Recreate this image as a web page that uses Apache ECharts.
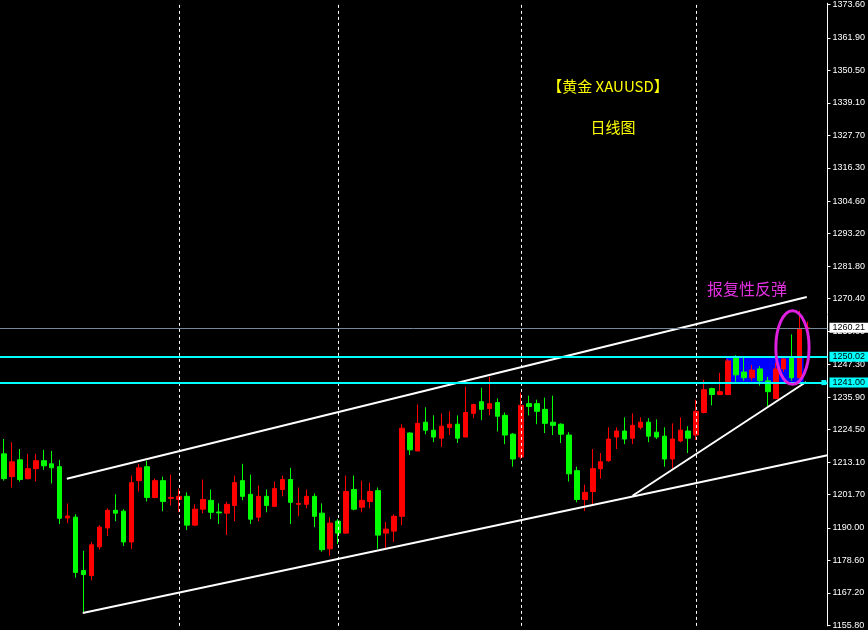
<!DOCTYPE html>
<html><head><meta charset="utf-8">
<script src="https://cdn.jsdelivr.net/npm/echarts/dist/echarts.min.js"></script>
<style>html,body{margin:0;padding:0;background:#000;}#c{width:868px;height:630px;}</style>
</head><body><div id="c"></div>
<script>
// ---- data (daily candles, oldest first) ----
const openPrices = [1216.0,1208.0,1213.9,1207.3,1210.8,1213.6,1212.5,1211.5,1193.5,1193.8,
1175.1,1173.3,1183.4,1190.0,1196.2,1195.9,1185.1,1206.6,1211.5,1200.7,
1206.6,1200.4,1200.0,1201.1,1191.0,1196.6,1199.7,1195.6,1195.2,1197.9,
1206.6,1201.8,1193.8,1201.1,1197.6,1203.5,1207.0,1198.3,1198.3,1201.1,
1195.2,1182.7,1192.4,1188.2,1203.5,1197.3,1199.3,1203.1,1188.2,1188.9,
1194.1,1223.3,1217.0,1227.1,1224.3,1221.5,1225.3,1226.4,1221.9,1230.2,
1234.3,1231.9,1234.0,1229.5,1222.9,1214.9,1233.6,1233.6,1231.6,1227.1,
1226.4,1222.6,1210.1,1200.0,1202.8,1210.8,1213.6,1221.9,1224.0,1221.5,
1225.3,1227.1,1223.6,1222.2,1214.2,1220.5,1224.0,1222.6,1230.5,1238.9,
1236.8,1236.8,1249.9,1244.7,1242.7,1245.8,1241.6,1235.4,1245.8,1249.6,
1242.7,1259.9];
const closePrices = [1207.3,1213.2,1207.0,1210.8,1213.6,1211.8,1211.1,1193.4,1194.2,1174.4,
1173.7,1184.1,1190.3,1196.2,1195.2,1185.1,1205.9,1211.1,1200.7,1206.6,
1199.3,1200.7,1201.1,1191.0,1196.6,1200.0,1195.5,1195.3,1198.3,1205.9,
1201.1,1193.1,1201.1,1197.9,1203.8,1207.0,1199.0,1198.6,1201.1,1194.1,
1182.4,1191.7,1188.2,1202.8,1196.6,1199.7,1202.8,1187.5,1189.6,1194.1,
1225.0,1217.4,1226.7,1224.3,1221.9,1225.7,1226.4,1221.5,1230.5,1233.3,
1231.6,1233.6,1229.2,1222.6,1214.2,1233.0,1232.6,1230.9,1226.7,1226.0,
1222.9,1209.0,1200.0,1202.5,1210.8,1213.2,1221.2,1224.0,1221.2,1226.0,
1227.1,1222.2,1221.9,1214.2,1221.2,1224.3,1221.5,1230.9,1238.5,1236.8,
1237.8,1248.6,1243.7,1242.7,1245.4,1241.6,1237.8,1245.8,1249.3,1242.7,
1259.7,1260.21];
const lowPrices = [1206.6,1204.2,1206.3,1207.0,1206.3,1210.4,1205.6,1191.4,1191.7,1172.6,
1160.2,1171.6,1182.4,1187.2,1192.4,1183.7,1182.7,1202.8,1199.3,1200.4,
1195.9,1197.9,1195.5,1189.3,1190.7,1195.2,1193.1,1191.4,1187.5,1192.4,
1199.7,1191.4,1192.4,1195.5,1197.3,1201.1,1191.4,1194.1,1196.9,1190.3,
1181.7,1180.3,1184.4,1188.0,1196.2,1195.5,1196.9,1182.7,1182.7,1185.1,
1191.0,1215.6,1217.0,1222.9,1220.1,1218.4,1222.6,1219.8,1221.9,1228.5,
1227.8,1229.5,1223.9,1219.4,1211.5,1214.2,1229.5,1226.4,1223.3,1222.6,
1219.8,1206.3,1199.0,1195.9,1198.3,1207.3,1213.2,1217.7,1219.4,1219.4,
1224.6,1220.1,1221.2,1211.5,1210.8,1220.1,1216.3,1220.8,1230.2,1233.0,
1236.6,1236.6,1241.3,1241.6,1241.6,1239.9,1232.6,1235.2,1244.7,1241.6,
1242.5,1259.6];
const highPrices = [1221.2,1220.1,1217.7,1216.0,1216.0,1217.4,1217.0,1213.9,1198.6,1194.8,
1182.0,1185.1,1191.0,1196.9,1201.8,1196.6,1208.4,1212.5,1213.6,1207.3,
1208.0,1208.7,1203.8,1202.5,1198.3,1207.0,1203.5,1198.6,1199.3,1208.4,
1212.5,1208.7,1204.9,1203.5,1206.3,1208.4,1211.1,1204.2,1203.5,1202.1,
1198.6,1193.8,1193.1,1208.4,1208.4,1206.6,1205.9,1204.2,1192.1,1194.8,
1226.4,1223.6,1233.3,1232.3,1229.5,1230.2,1230.9,1229.5,1239.5,1233.6,
1239.2,1243.0,1235.4,1230.5,1223.3,1237.5,1236.4,1235.0,1235.7,1236.4,
1226.7,1223.6,1211.5,1205.2,1217.7,1216.3,1225.3,1225.3,1228.8,1230.2,
1228.8,1228.5,1228.1,1225.3,1226.7,1228.8,1225.7,1235.0,1242.0,1239.2,
1244.4,1249.3,1250.6,1249.6,1247.2,1246.8,1243.0,1247.9,1250.3,1257.9,
1266.2,1262.4];
const slotCount = 104;                       // bar slots visible on screen
const separatorBars = [22, 42, 65, 87];      // dashed period separators
const yTickValues = [1373.60,1361.90,1350.50,1339.10,1327.70,1316.30,1304.60,1293.20,1281.80,1270.40,
1259.00,1247.30,1235.90,1224.50,1213.10,1201.70,1190.00,1178.60,1167.20,1155.80];
const yRange = [1155.67, 1374.04];
const lastPrice = 1260.21;
const levelLines = [1250.02, 1241.00];
const rangeBox = [[90.75, 1250.02], [100.5, 1241.00]];
const channelUpper = [[7.9, 1207.3], [100.9, 1271.0]];
const channelLower = [[9.9, 1160.2], [103.5, 1215.5]];
const supportLine = [[79.0, 1201.3], [100.8, 1241.2]];
const ellipseCenter = [99.1, 1253.3];
const ellipseRadius = [2.09, 12.9];
const titleText = '【黄金 XAUUSD】';
const subTitleText = '日线图';
const noteText = '报复性反弹';

const categories = Array.from({length: slotCount}, (_, i) => String(i));
const candles = openPrices.map((o, i) => [o, closePrices[i], lowPrices[i], highPrices[i]]);

const chart = echarts.init(document.getElementById('c'));
const white = '#FFFFFF';
const axisFont = 'Liberation Sans';
const priceLabel = (bg) => ({show: true, position: 'end', distance: 2, formatter: p => p.value.toFixed(2),
  color: '#000', backgroundColor: bg, padding: [1, 8, 0, 3], fontSize: 9, fontFamily: axisFont});
const option = {
  backgroundColor: '#000000',
  animation: false,
  grid: {left: -2, right: 37, top: 0, bottom: 0},
  xAxis: [
    {type: 'category', data: categories, show: false, boundaryGap: true},
    {type: 'value', min: -0.5, max: slotCount - 0.5, show: false}
  ],
  yAxis: {
    type: 'value', position: 'right', min: yRange[0], max: yRange[1], scale: true,
    axisLine: {show: true, onZero: false, lineStyle: {color: white, width: 1}},
    axisTick: {show: true, length: 3, customValues: yTickValues, lineStyle: {color: white}},
    axisLabel: {show: true, customValues: yTickValues, color: white, fontSize: 9,
      fontFamily: axisFont, margin: 5, formatter: v => v.toFixed(2)},
    splitLine: {show: false}
  },
  graphic: [
    {type: 'text', x: 608, y: 86, style: {text: titleText, fill: '#FFFF00',
      font: '15px "Noto Sans CJK SC"', align: 'center', verticalAlign: 'middle'}},
    {type: 'text', x: 613, y: 127, style: {text: subTitleText, fill: '#FFFF00',
      font: '15px "Noto Sans CJK SC"', align: 'center', verticalAlign: 'middle'}},
    {type: 'text', x: 707, y: 289, style: {text: noteText, fill: '#E030E0',
      font: '16px "Noto Sans CJK SC"', align: 'left', verticalAlign: 'middle'}}
  ],
  series: [
    {
      type: 'line', xAxisIndex: 1, data: [], z: 1, silent: true,
      markArea: {silent: true, itemStyle: {color: '#0000FF', opacity: 1},
        data: [[{coord: rangeBox[0]}, {coord: rangeBox[1]}]]}
    },
    {
      type: 'candlestick', xAxisIndex: 0, data: candles, z: 2, barWidth: 5,
      itemStyle: {color: '#FF0000', color0: '#00FF00', borderColor: '#FF0000', borderColor0: '#00FF00', borderWidth: 1},
      markLine: {silent: true, symbol: 'none', label: {show: false},
        lineStyle: {color: white, type: [3, 3], width: 1},
        data: separatorBars.map(b => ({xAxis: b}))}
    },
    {type: 'line', xAxisIndex: 1, data: channelUpper, z: 3, showSymbol: false, silent: true,
      lineStyle: {color: white, width: 2}},
    {type: 'line', xAxisIndex: 1, data: channelLower, z: 3, showSymbol: false, silent: true,
      lineStyle: {color: white, width: 2}},
    {type: 'line', xAxisIndex: 1, data: supportLine, z: 3, showSymbol: false, silent: true,
      lineStyle: {color: white, width: 2}},
    {
      type: 'line', xAxisIndex: 1, data: [], z: 4, silent: true,
      markLine: {silent: true, symbol: 'none',
        data: [
          {yAxis: lastPrice, lineStyle: {color: '#778899', width: 1, type: 'solid'}, label: priceLabel('#FFFFFF')},
          ...levelLines.map(v => ({yAxis: v, lineStyle: {color: '#00FFFF', width: 2, type: 'solid'}, label: priceLabel('#00FFFF')}))
        ]},
      markPoint: {silent: true, symbol: 'rect', symbolSize: 5,
        itemStyle: {color: '#00FFFF'}, label: {show: false},
        data: [{coord: [slotCount - 0.95, levelLines[1]]}]}
    },
    {
      type: 'custom', xAxisIndex: 1, z: 5, silent: true, clip: false,
      data: [ellipseCenter],
      renderItem: (params, api) => {
        const c = api.coord(ellipseCenter);
        const p = api.coord([ellipseCenter[0] + ellipseRadius[0], ellipseCenter[1] + ellipseRadius[1]]);
        return {type: 'ellipse', shape: {cx: c[0], cy: c[1], rx: Math.abs(p[0] - c[0]), ry: Math.abs(p[1] - c[1])},
          style: {fill: 'none', stroke: '#E020E0', lineWidth: 3}};
      }
    }
  ]
};
chart.setOption(option);
</script></body></html>
